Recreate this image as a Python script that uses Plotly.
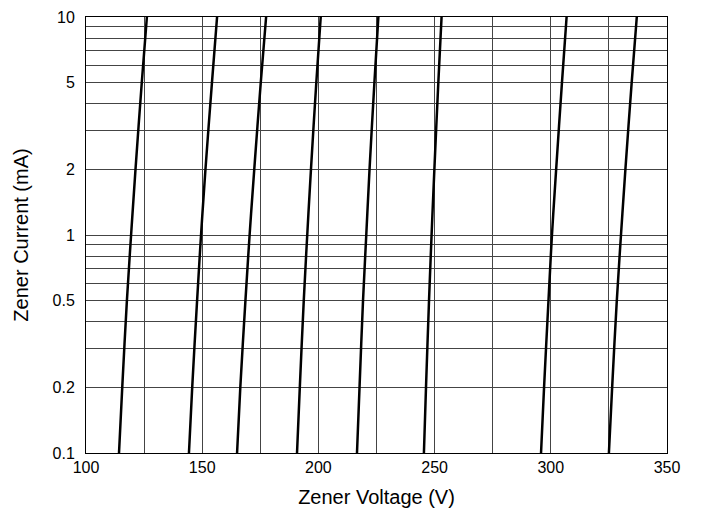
import plotly.graph_objects as go

# Zener current values (mA) at which voltages were read
current_ma = [0.1, 0.2, 0.5, 1, 2, 5, 10]

# Zener voltage (V) for each device curve, read at the currents above
curve1 = [114.2, 115.6, 117.6, 119.4, 121.3, 124.0, 126.2]
curve2 = [144.3, 145.7, 147.8, 149.5, 151.4, 154.2, 156.4]
curve3 = [165.0, 166.4, 168.6, 170.4, 172.4, 175.2, 177.5]
curve4 = [190.8, 192.0, 193.7, 195.2, 196.8, 199.1, 201.0]
curve5 = [216.6, 217.7, 219.2, 220.6, 222.0, 224.1, 225.8]
curve6 = [245.4, 246.3, 247.6, 248.7, 249.9, 251.6, 253.0]
curve7 = [295.8, 297.1, 299.0, 300.5, 302.3, 304.8, 306.8]
curve8 = [325.0, 326.4, 328.4, 330.2, 332.1, 334.8, 337.0]
curves = [curve1, curve2, curve3, curve4, curve5, curve6, curve7, curve8]

# Axis ticks
x_tickvals = [100, 125, 150, 175, 200, 225, 250, 275, 300, 325, 350]
x_ticktext = ["100", "", "150", "", "200", "", "250", "", "300", "", "350"]
y_tickvals = [0.1, 0.2, 0.3, 0.4, 0.5, 0.6, 0.7, 0.8, 0.9,
              1, 2, 3, 4, 5, 6, 7, 8, 9, 10]
y_ticktext = ["0.1", "0.2", "", "", "0.5", "", "", "", "",
              "1", "2", "", "", "5", "", "", "", "", "10"]

fig = go.Figure()
for c in curves:
    fig.add_trace(go.Scatter(
        x=c, y=current_ma, mode="lines",
        line=dict(color="black", width=2.5, shape="spline"),
        showlegend=False, hoverinfo="skip"))

family = "Liberation Sans, Arial, sans-serif"
tickfont = dict(family=family, size=16, color="black")
titlefont = dict(family=family, size=20, color="black")

fig.update_layout(
    width=701, height=514,
    margin=dict(l=78, r=42, t=9, b=69, autoexpand=False),
    paper_bgcolor="white", plot_bgcolor="white",
    font=tickfont,
    showlegend=False,
)
fig.update_xaxes(
    range=[100, 350], tickvals=x_tickvals, ticktext=x_ticktext,
    showgrid=True, gridcolor="#444444", gridwidth=1,
    showline=True, linecolor="black", linewidth=1, mirror=True,
    ticks="", ticklabelstandoff=0, zeroline=False, automargin=False,
    title=dict(text="Zener Voltage (V)", standoff=14, font=titlefont),
    tickfont=tickfont,
)
fig.update_yaxes(
    type="log", range=[-1, 1], tickvals=y_tickvals, ticktext=y_ticktext,
    showgrid=True, gridcolor="#444444", gridwidth=1,
    showline=True, linecolor="black", linewidth=1, mirror=True,
    ticks="", ticklabelstandoff=7, zeroline=False, automargin=False,
    title=dict(text="Zener Current (mA)", standoff=18, font=titlefont),
    tickfont=tickfont,
)

fig.write_html("out.html")
